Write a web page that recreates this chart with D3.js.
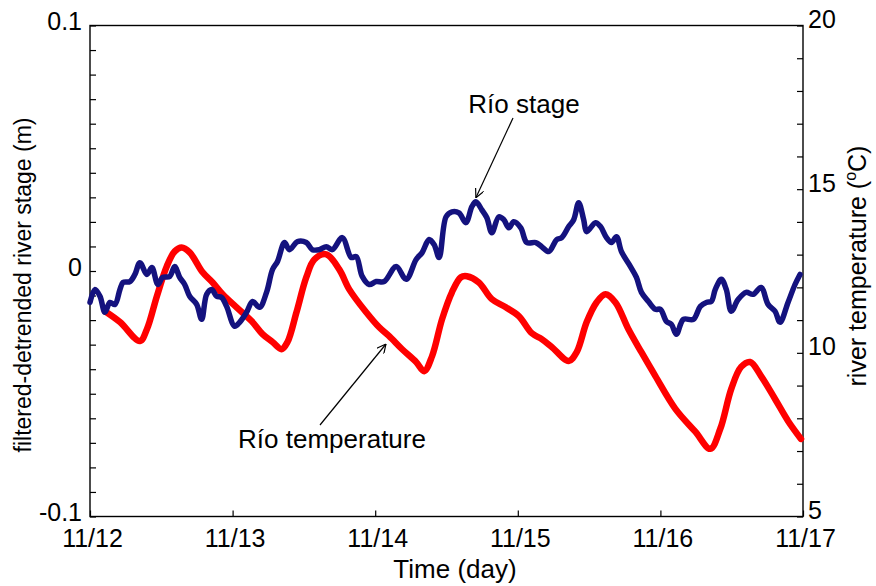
<!DOCTYPE html>
<html>
<head>
<meta charset="utf-8">
<script src="https://cdn.jsdelivr.net/npm/d3@7"></script>
<style>
  body { margin: 0; background: #fff; }
  text { font-family: "Liberation Sans", Arial, sans-serif; fill: #000; }
</style>
</head>
<body>
<div id="chart"></div>
<script>
// time in days since 11/12 00:00
var stageTime = [0, 0.035, 0.070, 0.105, 0.140, 0.175, 0.210, 0.231, 0.280, 0.315, 0.350, 0.399, 0.434, 0.476, 0.510, 0.559, 0.594, 0.629, 0.664, 0.699, 0.748, 0.783, 0.818, 0.853, 0.888, 0.923, 0.958, 1.014, 1.049, 1.098, 1.140, 1.189, 1.238, 1.280, 1.315, 1.364, 1.399, 1.455, 1.517, 1.559, 1.608, 1.657, 1.699, 1.769, 1.832, 1.867, 1.909, 1.958, 2.007, 2.063, 2.147, 2.217, 2.287, 2.329, 2.378, 2.413, 2.448, 2.497, 2.538, 2.587, 2.636, 2.678, 2.706, 2.748, 2.783, 2.818, 2.867, 2.902, 2.937, 2.972, 3.021, 3.063, 3.126, 3.168, 3.217, 3.273, 3.308, 3.357, 3.392, 3.427, 3.462, 3.483, 3.545, 3.580, 3.622, 3.657, 3.692, 3.727, 3.790, 3.832, 3.867, 3.916, 3.965, 4.000, 4.042, 4.077, 4.112, 4.161, 4.231, 4.280, 4.322, 4.357, 4.385, 4.427, 4.462, 4.497, 4.545, 4.601, 4.650, 4.706, 4.755, 4.804, 4.839, 4.895, 4.944, 4.979];
// filtered-detrended river stage (m)
var stageValue = [-0.0128, -0.0075, -0.0103, -0.0168, -0.0128, -0.0136, -0.0075, -0.0047, -0.0043, -0.0014, 0.0034, -0.0014, 0.0014, -0.0055, -0.0026, -0.0022, 0.0018, -0.0026, -0.0055, -0.0103, -0.0136, -0.0197, -0.0095, -0.0075, -0.0103, -0.0108, -0.0144, -0.0225, -0.0209, -0.0168, -0.0124, -0.0148, -0.0087, 0.0006, 0.0039, 0.0116, 0.0087, 0.0120, 0.0116, 0.0087, 0.0087, 0.0099, 0.0087, 0.0136, 0.0055, 0.0059, -0.0022, -0.0055, -0.0043, -0.0043, 0.0018, -0.0034, 0.0047, 0.0075, 0.0128, 0.0108, 0.0055, 0.0221, 0.0241, 0.0237, 0.0197, 0.0262, 0.0282, 0.0249, 0.0217, 0.0156, 0.0221, 0.0209, 0.0176, 0.0201, 0.0176, 0.0116, 0.0116, 0.0099, 0.0079, 0.0128, 0.0136, 0.0181, 0.0209, 0.0278, 0.0209, 0.0160, 0.0197, 0.0181, 0.0136, 0.0116, 0.0140, 0.0079, 0.0018, -0.0026, -0.0087, -0.0124, -0.0156, -0.0156, -0.0205, -0.0217, -0.0258, -0.0197, -0.0197, -0.0144, -0.0128, -0.0124, -0.0075, -0.0034, -0.0075, -0.0164, -0.0116, -0.0087, -0.0095, -0.0067, -0.0136, -0.0164, -0.0209, -0.0128, -0.0055, -0.0014];

var tempTime = [0.105, 0.210, 0.350, 0.399, 0.469, 0.538, 0.594, 0.643, 0.699, 0.790, 0.860, 0.930, 1.028, 1.133, 1.210, 1.280, 1.343, 1.385, 1.448, 1.517, 1.573, 1.657, 1.748, 1.818, 1.937, 2.028, 2.098, 2.189, 2.287, 2.343, 2.399, 2.469, 2.538, 2.601, 2.643, 2.727, 2.818, 2.916, 3.007, 3.098, 3.168, 3.238, 3.357, 3.413, 3.483, 3.552, 3.615, 3.685, 3.776, 3.867, 3.965, 4.105, 4.245, 4.350, 4.420, 4.497, 4.566, 4.629, 4.706, 4.804, 4.895, 4.986];
// river temperature (°C)
var tempValue = [11.27, 10.94, 10.36, 10.72, 11.73, 12.64, 13.10, 13.22, 13.07, 12.46, 12.15, 11.79, 11.39, 10.97, 10.57, 10.33, 10.11, 10.33, 11.24, 12.31, 12.85, 13.01, 12.55, 11.94, 11.24, 10.78, 10.51, 10.11, 9.72, 9.44, 9.90, 11.03, 11.85, 12.31, 12.34, 12.15, 11.64, 11.39, 11.12, 10.60, 10.42, 10.18, 9.75, 10.02, 10.94, 11.54, 11.79, 11.54, 10.72, 10.02, 9.29, 8.29, 7.59, 7.07, 7.68, 8.90, 9.57, 9.72, 9.29, 8.59, 7.92, 7.37];

var dayLabels = ["11/12", "11/13", "11/14", "11/15", "11/16", "11/17"];
var stageLabels = [0.1, 0, -0.1];
var tempLabels = [5, 10, 15, 20];

var W = 876, H = 586;
var margin = {top: 25.5, right: 73, bottom: 69.5, left: 90};
var width = W - margin.left - margin.right,
    height = H - margin.top - margin.bottom;

var svg = d3.select("#chart").append("svg")
    .attr("width", W)
    .attr("height", H)
  .append("g")
    .attr("transform", "translate(" + margin.left + "," + margin.top + ")");

var x = d3.scaleLinear().domain([0, 5]).range([0, width]);
var yL = d3.scaleLinear().domain([-0.1, 0.1]).range([height, 0]);
var yR = d3.scaleLinear().domain([5, 20]).range([height, 0]);

// axes, ticks pointing inward
var xAxis = d3.axisBottom(x).tickValues(d3.range(0, 6)).tickSize(-6)
    .tickFormat(function(d) { return dayLabels[d]; });
var leftAxis = d3.axisLeft(yL).tickValues(d3.range(-10, 11).map(function(d) { return d / 100; }))
    .tickSize(-6).tickPadding(8)
    .tickFormat(function(d) {
      var v = Math.round(d * 100) / 100;
      return stageLabels.indexOf(v) >= 0 ? String(v) : "";
    });
var rightAxis = d3.axisRight(yR).tickValues(d3.range(5, 21)).tickSize(-6).tickPadding(5)
    .tickFormat(function(d) { return tempLabels.indexOf(d) >= 0 ? d : ""; });

function styleAxis(g) {
  g.select(".domain").remove();
  g.selectAll("line").attr("stroke", "#000").attr("stroke-width", 1.2);
  g.selectAll("text").style("font-size", "25px").style("font-family", "Liberation Sans, Arial, sans-serif");
}

svg.append("g").attr("transform", "translate(0," + height + ")").call(xAxis).call(styleAxis)
  .selectAll("text").attr("y", 30).attr("dy", 0).attr("x", 2);
svg.append("g").call(leftAxis).call(styleAxis)
  .selectAll("text").attr("y", -4);
svg.append("g").attr("transform", "translate(" + width + ",0)").call(rightAxis).call(styleAxis)
  .selectAll("text").attr("y", -6);

// box
svg.append("rect")
    .attr("width", width).attr("height", height)
    .attr("fill", "none").attr("stroke", "#000").attr("stroke-width", 1.4);

var tempData = tempTime.map(function(t, i) { return [t, tempValue[i]]; });
var stageData = stageTime.map(function(t, i) { return [t, stageValue[i]]; });

// red temperature line
svg.append("path")
    .datum(tempData)
    .attr("fill", "none")
    .attr("stroke", "#ff0000")
    .attr("stroke-width", 6.5)
    .attr("stroke-linecap", "round")
    .attr("stroke-linejoin", "round")
    .attr("d", d3.line().curve(d3.curveCatmullRom.alpha(0.5))
      .x(function(d) { return x(d[0]); })
      .y(function(d) { return yR(d[1]); }));

// blue stage line
svg.append("path")
    .datum(stageData)
    .attr("fill", "none")
    .attr("stroke", "#14127e")
    .attr("stroke-width", 5.5)
    .attr("stroke-linecap", "round")
    .attr("stroke-linejoin", "round")
    .attr("d", d3.line().curve(d3.curveCatmullRom.alpha(0.5))
      .x(function(d) { return x(d[0]); })
      .y(function(d) { return yL(d[1]); }));

// annotations
svg.append("defs").append("marker")
    .attr("id", "arr")
    .attr("viewBox", "0 0 10 10")
    .attr("refX", 10).attr("refY", 5)
    .attr("markerWidth", 9).attr("markerHeight", 9)
    .attr("markerUnits", "userSpaceOnUse")
    .attr("orient", "auto")
  .append("path")
    .attr("d", "M0,0 L10,5 L0,10")
    .attr("fill", "none").attr("stroke", "#000").attr("stroke-width", 1.3);

svg.append("text")
    .attr("x", 524 - margin.left).attr("y", 113 - margin.top)
    .attr("text-anchor", "middle")
    .style("font-size", "26px")
    .text("Río stage");
svg.append("line")
    .attr("x1", 513 - margin.left).attr("y1", 118 - margin.top)
    .attr("x2", x(2.706)).attr("y2", yL(0.0282) - 4)
    .attr("stroke", "#000").attr("stroke-width", 1.2)
    .attr("marker-end", "url(#arr)");

svg.append("text")
    .attr("x", 332 - margin.left).attr("y", 448 - margin.top)
    .attr("text-anchor", "middle")
    .style("font-size", "26px")
    .text("Río temperature");
svg.append("line")
    .attr("x1", 320 - margin.left).attr("y1", 425 - margin.top)
    .attr("x2", 386 - margin.left).attr("y2", 344 - margin.top)
    .attr("stroke", "#000").attr("stroke-width", 1.2)
    .attr("marker-end", "url(#arr)");

// axis titles
svg.append("text")
    .attr("x", 455 - margin.left).attr("y", 578 - margin.top)
    .attr("text-anchor", "middle")
    .style("font-size", "26px")
    .text("Time (day)");

svg.append("text")
    .attr("transform", "translate(" + (31 - margin.left) + "," + (285 - margin.top) + ") rotate(-90)")
    .attr("text-anchor", "middle")
    .style("font-size", "23px")
    .text("filtered-detrended river stage (m)");

var rt = svg.append("text")
    .attr("transform", "translate(" + (width + 63) + "," + (266 - margin.top) + ") rotate(-90)")
    .attr("text-anchor", "middle")
    .style("font-size", "25px");
rt.append("tspan").text("river temperature (");
rt.append("tspan").attr("dy", -10).style("font-size", "16px").text("o");
rt.append("tspan").attr("dy", 10).text("C)");
</script>
</body>
</html>
